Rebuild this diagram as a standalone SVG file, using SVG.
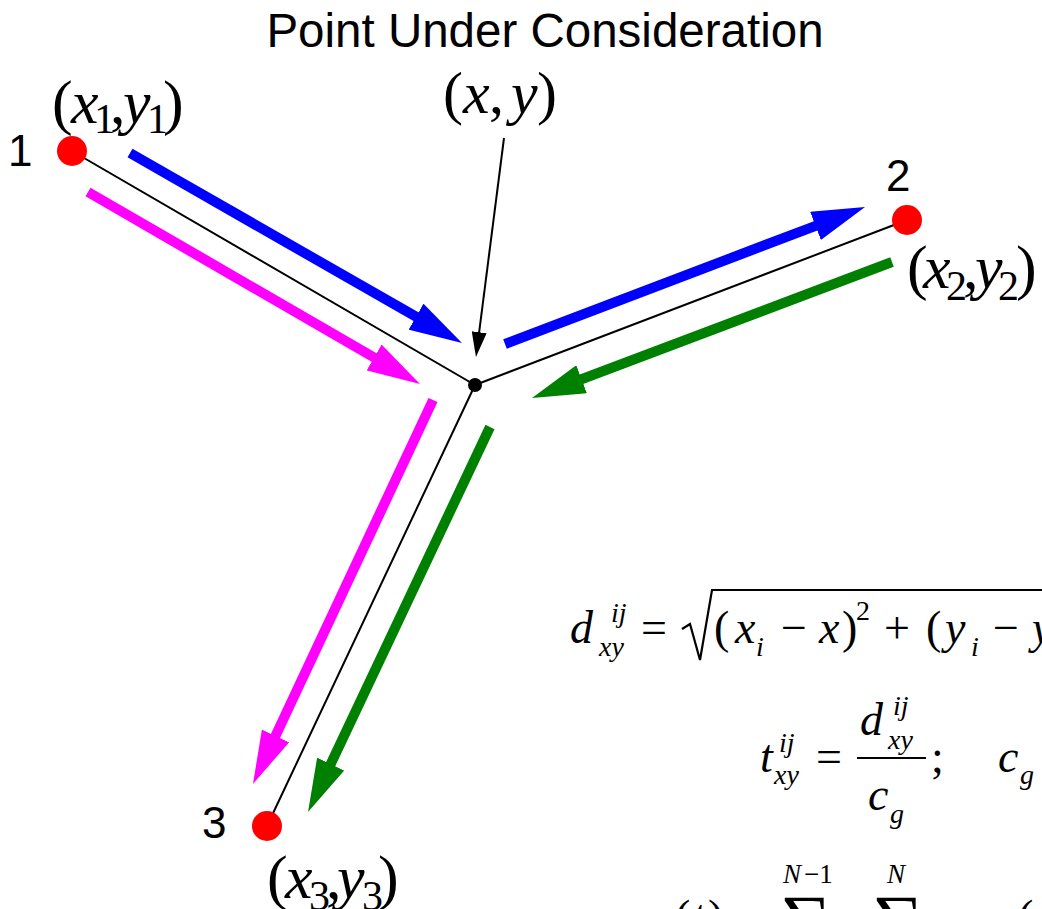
<svg xmlns="http://www.w3.org/2000/svg" width="1042" height="909" viewBox="0 0 1042 909">
<style>
.ttl{font-family:"Liberation Sans",Arial,sans-serif;fill:#000}
.m{font-family:"Liberation Serif","Times New Roman",serif;fill:#000}
.i{font-style:italic}
.edge{stroke:#000;stroke-width:2;fill:none}
.arr{stroke-width:10;fill:none;stroke-linecap:butt}
.pt{fill:#ff0000}
</style>
<defs>
<marker id="hb" markerUnits="userSpaceOnUse" markerWidth="53" markerHeight="30" viewBox="0 0 53 30" refX="3" refY="15" orient="auto"><path d="M0,0 L53,15 L0,30 z" fill="#0000ff"/></marker>
<marker id="hm" markerUnits="userSpaceOnUse" markerWidth="53" markerHeight="30" viewBox="0 0 53 30" refX="3" refY="15" orient="auto"><path d="M0,0 L53,15 L0,30 z" fill="#ff00ff"/></marker>
<marker id="hg" markerUnits="userSpaceOnUse" markerWidth="53" markerHeight="30" viewBox="0 0 53 30" refX="3" refY="15" orient="auto"><path d="M0,0 L53,15 L0,30 z" fill="#008000"/></marker>
<marker id="hk" markerUnits="userSpaceOnUse" markerWidth="25" markerHeight="15" viewBox="0 0 25 15" refX="2" refY="7.5" orient="auto"><path d="M0,0 L25,7.5 L0,15 z" fill="#000"/></marker>
</defs>
<rect width="1042" height="909" fill="#fff"/>

<g id="edges">
<line class="edge" x1="72" y1="151" x2="475" y2="385"/>
<line class="edge" x1="907" y1="220" x2="475" y2="385"/>
<line class="edge" x1="267" y1="826" x2="475" y2="385"/>
</g>

<g id="connectors">
<line class="arr" stroke="#0000ff" x1="130" y1="153" x2="418.6" y2="318.2" marker-end="url(#hb)"/>
<line class="arr" stroke="#0000ff" x1="505" y1="344" x2="818.3" y2="224.8" marker-end="url(#hb)"/>
<line class="arr" stroke="#008000" x1="892" y1="262" x2="578.8" y2="380.3" marker-end="url(#hg)"/>
<line class="arr" stroke="#ff00ff" x1="88" y1="192" x2="376.7" y2="359" marker-end="url(#hm)"/>
<line class="arr" stroke="#ff00ff" x1="433" y1="400" x2="274.2" y2="738.7" marker-end="url(#hm)"/>
<line class="arr" stroke="#008000" x1="490" y1="427" x2="329.4" y2="766.8" marker-end="url(#hg)"/>
<line stroke="#000" stroke-width="2" x1="504" y1="138" x2="478.9" y2="334.2" marker-end="url(#hk)"/>
</g>

<g id="node1">
<circle class="pt" cx="72" cy="151" r="15"/>
<text class="ttl" x="8" y="166" font-size="44">1</text>
<text class="m" font-size="62"><tspan x="52" y="123">(</tspan><tspan class="i" x="71" y="123">x</tspan><tspan x="94" y="133" font-size="42">1</tspan><tspan x="110" y="123">,</tspan><tspan class="i" x="123" y="123">y</tspan><tspan x="147" y="133" font-size="42">1</tspan><tspan x="163" y="123">)</tspan></text>
</g>

<g id="node2">
<circle class="pt" cx="907" cy="220" r="15"/>
<text class="ttl" x="886" y="191" font-size="44">2</text>
<text class="m" font-size="62"><tspan x="907" y="288">(</tspan><tspan class="i" x="923" y="288">x</tspan><tspan x="946" y="300" font-size="42">2</tspan><tspan x="963" y="288">,</tspan><tspan class="i" x="975" y="288">y</tspan><tspan x="998" y="300" font-size="42">2</tspan><tspan x="1016" y="288">)</tspan></text>
</g>

<g id="node3">
<circle class="pt" cx="267" cy="826" r="15"/>
<text class="ttl" x="202" y="838" font-size="44">3</text>
<text class="m" font-size="62"><tspan x="267" y="898">(</tspan><tspan class="i" x="285" y="898">x</tspan><tspan x="309" y="910" font-size="42">3</tspan><tspan x="326" y="898">,</tspan><tspan class="i" x="337" y="898">y</tspan><tspan x="362" y="910" font-size="42">3</tspan><tspan x="378" y="898">)</tspan></text>
</g>

<g id="center">
<circle cx="475" cy="385" r="7" fill="#000"/>
<text class="ttl" x="545" y="47" font-size="47.5" text-anchor="middle">Point Under Consideration</text>
<text class="m" font-size="60"><tspan x="443" y="113">(</tspan><tspan class="i" x="463" y="113">x</tspan><tspan x="489" y="113">,</tspan><tspan class="i" x="511" y="113">y</tspan><tspan x="537" y="113">)</tspan></text>
</g>

<g id="equations">
<text class="m" font-size="46"><tspan class="i" x="570" y="643">d</tspan><tspan class="i" x="611" y="622" font-size="28">ij</tspan><tspan class="i" x="599" y="656" font-size="28">xy</tspan><tspan x="641" y="643">=</tspan><tspan x="714" y="643">(</tspan><tspan class="i" x="735" y="643">x</tspan><tspan class="i" x="756" y="656" font-size="28">i</tspan><tspan x="781" y="643">−</tspan><tspan class="i" x="819" y="643">x</tspan><tspan x="842" y="643">)</tspan><tspan x="856" y="620" font-size="28">2</tspan><tspan x="884" y="643">+</tspan><tspan x="926" y="643">(</tspan><tspan class="i" x="945" y="643">y</tspan><tspan class="i" x="971" y="656" font-size="28">i</tspan><tspan x="993" y="643">−</tspan><tspan class="i" x="1032" y="643">y</tspan></text>
<polyline points="682,629 690,624 700,660 712,590 1042,590" fill="none" stroke="#000" stroke-width="2.2" stroke-linejoin="miter"/>

<text class="m" font-size="46"><tspan class="i" x="760" y="772">t</tspan><tspan class="i" x="779" y="752" font-size="28">ij</tspan><tspan class="i" x="774" y="784" font-size="28">xy</tspan><tspan x="816" y="772">=</tspan><tspan class="i" x="860" y="735">d</tspan><tspan class="i" x="893" y="715" font-size="28">ij</tspan><tspan class="i" x="888" y="749" font-size="28">xy</tspan><tspan class="i" x="868" y="810">c</tspan><tspan class="i" x="890" y="823" font-size="28">g</tspan><tspan x="931" y="772">;</tspan><tspan class="i" x="998" y="772">c</tspan><tspan class="i" x="1020" y="784" font-size="28">g</tspan></text>
<line x1="857" y1="758" x2="926" y2="758" stroke="#000" stroke-width="2"/>

<text class="m" font-size="46"><tspan x="675" y="932">(</tspan><tspan class="i" x="692" y="932">t</tspan><tspan x="708" y="932">)</tspan><tspan class="i" x="783" y="883" font-size="27">N</tspan><tspan x="804" y="883" font-size="27">−1</tspan><tspan class="i" x="887" y="883" font-size="27">N</tspan><tspan x="780" y="945" font-size="72">∑</tspan><tspan x="872" y="945" font-size="72">∑</tspan><tspan x="1018" y="932">(</tspan><tspan class="i" x="1036" y="932">t</tspan></text>
</g>
</svg>
